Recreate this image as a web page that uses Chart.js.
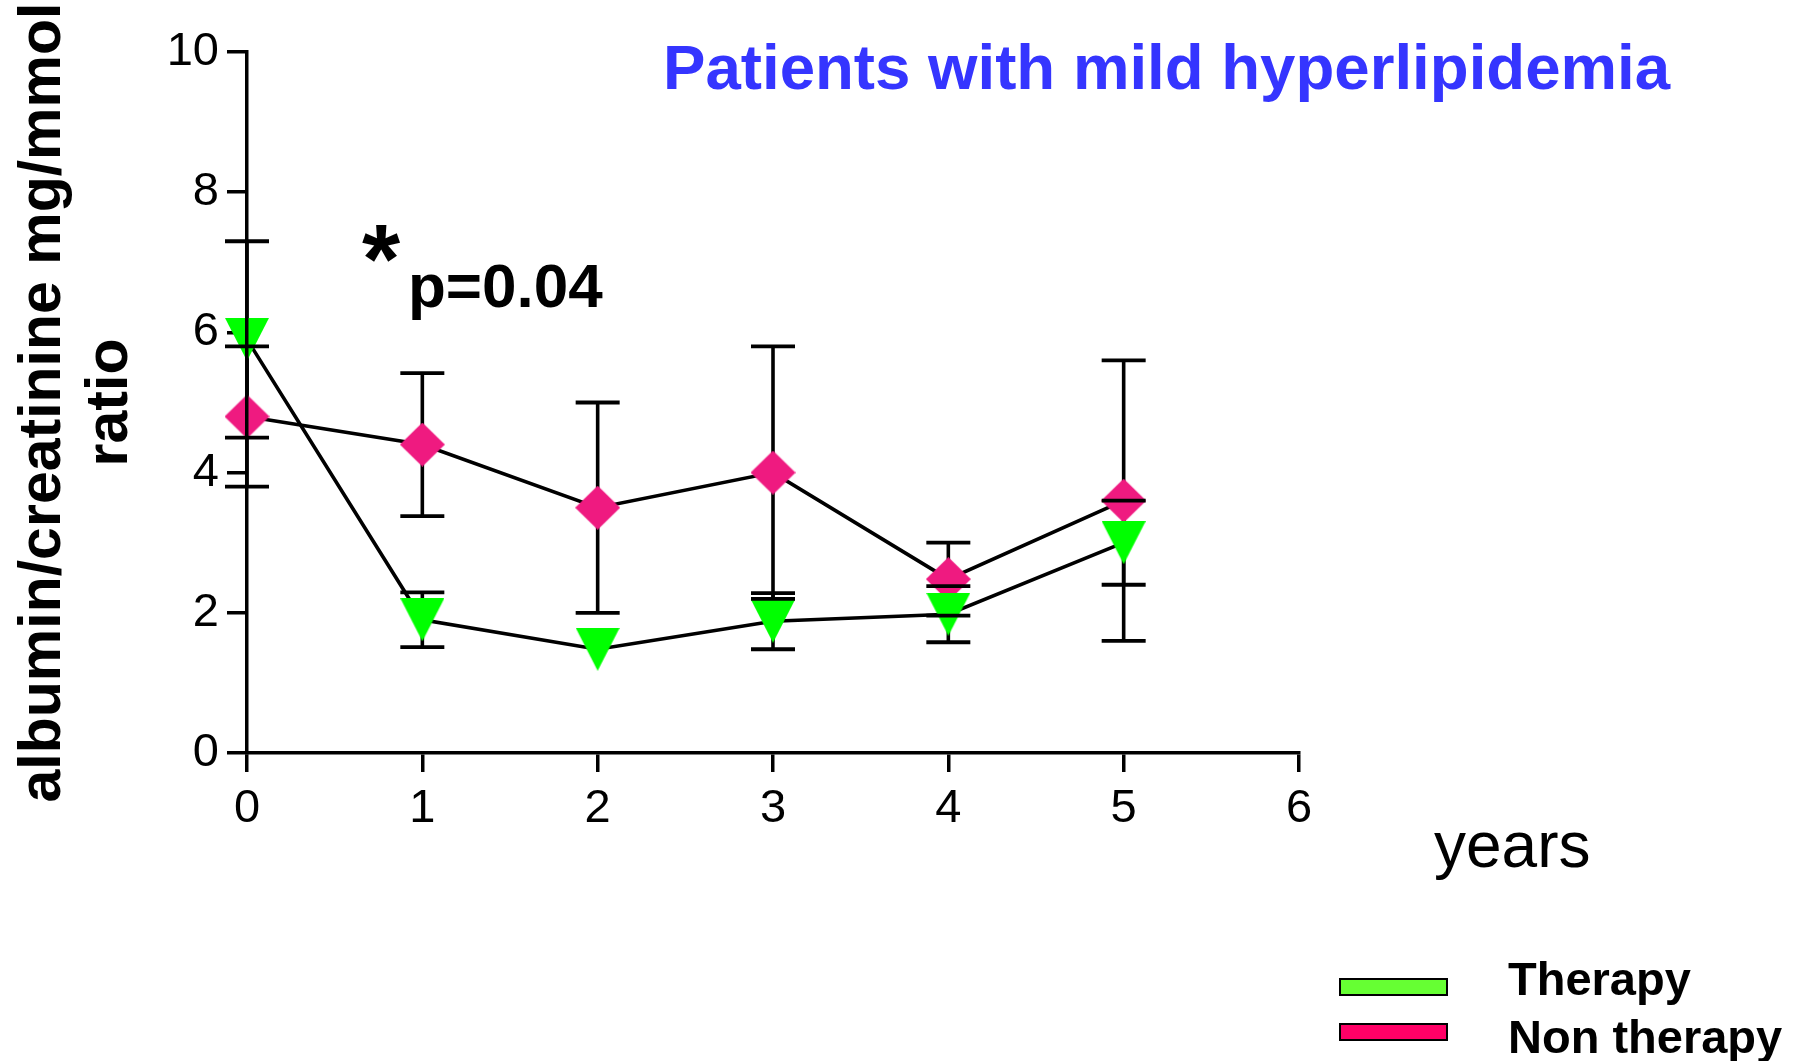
<!DOCTYPE html>
<html>
<head>
<meta charset="utf-8">
<title>Patients with mild hyperlipidemia</title>
<script src="https://cdn.jsdelivr.net/npm/chart.js@4.4.1/dist/chart.umd.min.js"></script>
<style>
  html, body { margin: 0; padding: 0; background: #ffffff; }
  canvas { display: block; }
</style>
</head>
<body>
<canvas id="myChart" width="1802" height="1061"></canvas>
<script>
// Years of follow-up
var years = [0, 1, 2, 3, 4, 5];

// Therapy group: mean and error bar size
var therapyMean = [5.9, 1.9, 1.48, 1.88, 1.98, 3.0];
var therapyErr = [1.4, 0.39, 0, 0.4, 0.4, 0.6];

// Non therapy group: mean and error bar size
var nonTherapyMean = [4.8, 4.4, 3.5, 4.0, 2.48, 3.6];
var nonTherapyErr = [1.0, 1.02, 1.5, 1.8, 0.52, 2.0];

// Axis ticks
var xTicks = [0, 1, 2, 3, 4, 5, 6];
var yTicks = [0, 2, 4, 6, 8, 10];

var fontFamily = "'Liberation Sans', Arial, Helvetica, sans-serif";
Chart.defaults.font.family = fontFamily;
Chart.defaults.color = '#000';

function toPoints(means) {
  return years.map(function (x, i) { return { x: x, y: means[i] }; });
}

// Marker shapes, drawn on small canvases and used as pointStyle
function triangleDown(w, h, color) {
  var c = document.createElement('canvas');
  c.width = w; c.height = h;
  var g = c.getContext('2d');
  g.fillStyle = color;
  g.beginPath();
  g.moveTo(0, 0); g.lineTo(w, 0); g.lineTo(w / 2, h);
  g.closePath();
  g.fill();
  return c;
}

function diamond(w, h, color) {
  var c = document.createElement('canvas');
  c.width = w; c.height = h;
  var g = c.getContext('2d');
  g.fillStyle = color;
  g.beginPath();
  g.moveTo(w / 2, 0); g.lineTo(w, h / 2); g.lineTo(w / 2, h); g.lineTo(0, h / 2);
  g.closePath();
  g.fill();
  return c;
}

// Error bars: whiskers go under the markers, caps on top
function eachBar(chart, fn) {
  var xs = chart.scales.x, ys = chart.scales.y;
  chart.data.datasets.forEach(function (ds) {
    ds.data.forEach(function (pt, i) {
      var e = ds.errors[i];
      if (!e) return;
      fn(xs.getPixelForValue(pt.x), ys.getPixelForValue(pt.y + e), ys.getPixelForValue(pt.y - e));
    });
  });
}

var errorBars = {
  id: 'errorBars',
  beforeDatasetsDraw: function (chart) {
    var ctx = chart.ctx;
    ctx.save();
    ctx.strokeStyle = '#000';
    ctx.lineWidth = 3.6;
    eachBar(chart, function (x, hi, lo) {
      ctx.beginPath();
      ctx.moveTo(x, hi); ctx.lineTo(x, lo);
      ctx.stroke();
    });
    ctx.restore();
  },
  afterDatasetsDraw: function (chart) {
    var ctx = chart.ctx;
    ctx.save();
    ctx.strokeStyle = '#000';
    ctx.lineWidth = 3.8;
    eachBar(chart, function (x, hi, lo) {
      ctx.beginPath();
      ctx.moveTo(x - 22, hi); ctx.lineTo(x + 22, hi);
      ctx.moveTo(x - 22, lo); ctx.lineTo(x + 22, lo);
      ctx.stroke();
    });
    ctx.restore();
  }
};

// Free text: title, significance note, x axis name, legend
var texts = {
  id: 'texts',
  afterDraw: function (chart) {
    var ctx = chart.ctx;
    ctx.save();
    ctx.textAlign = 'left';
    ctx.textBaseline = 'alphabetic';

    ctx.fillStyle = '#3535ff';
    ctx.font = 'bold 63.6px ' + fontFamily;
    ctx.fillText('Patients with mild hyperlipidemia', 663, 89);

    ctx.fillStyle = '#000';
    ctx.font = 'bold 98px ' + fontFamily;
    ctx.fillText('*', 362, 293);
    ctx.font = 'bold 62px ' + fontFamily;
    ctx.fillText('p=0.04', 408, 307);

    ctx.font = '64px ' + fontFamily;
    ctx.fillText('years', 1434, 867);

    ctx.font = 'bold 47px ' + fontFamily;
    chart.data.datasets.forEach(function (ds, i) {
      var top = 979 + i * 45;
      ctx.fillStyle = ds.legendColor;
      ctx.fillRect(1340, top, 107, 16);
      ctx.lineWidth = 2;
      ctx.strokeStyle = '#000';
      ctx.strokeRect(1340, top, 107, 16);
      ctx.fillStyle = '#000';
      ctx.fillText(ds.label, 1508, 995 + i * 58);
    });
    ctx.restore();
  }
};

var ctx = document.getElementById('myChart').getContext('2d');
var chart = new Chart(ctx, {
  type: 'line',
  data: {
    datasets: [{
      label: 'Therapy',
      data: toPoints(therapyMean),
      errors: therapyErr,
      legendColor: '#66ff33',
      borderColor: '#000',
      borderWidth: 3.6,
      pointStyle: triangleDown(44, 43, '#00ff00'),
      clip: false
    }, {
      label: 'Non therapy',
      data: toPoints(nonTherapyMean),
      errors: nonTherapyErr,
      legendColor: '#ff0066',
      borderColor: '#000',
      borderWidth: 3.6,
      pointStyle: diamond(45, 44, '#ef1a80'),
      clip: false
    }]
  },
  options: {
    responsive: false,
    animation: false,
    devicePixelRatio: 1,
    layout: { padding: { left: 0, top: 52, right: 503, bottom: 208 } },
    plugins: {
      legend: { display: false },
      tooltip: { enabled: false }
    },
    scales: {
      x: {
        type: 'linear',
        min: xTicks[0],
        max: xTicks[xTicks.length - 1],
        afterBuildTicks: function (scale) {
          scale.ticks = xTicks.map(function (v) { return { value: v }; });
        },
        afterFit: function (scale) { scale.height = 100; },
        border: { color: '#000', width: 3.5, z: 1 },
        grid: { drawOnChartArea: false, color: '#000', lineWidth: 3.5, tickLength: 19 },
        ticks: { font: { size: 47 }, padding: 9, maxRotation: 0 }
      },
      y: {
        min: yTicks[0],
        max: yTicks[yTicks.length - 1],
        afterBuildTicks: function (scale) {
          scale.ticks = yTicks.map(function (v) { return { value: v }; });
        },
        afterFit: function (scale) { scale.width = 247; },
        border: { color: '#000', width: 3.5, z: 1 },
        grid: { drawOnChartArea: false, color: '#000', lineWidth: 3.5, tickLength: 20 },
        ticks: { font: { size: 47 }, padding: 8 },
        title: {
          display: true,
          text: ['albumin/creatinine mg/mmol', 'ratio'],
          font: { size: 59, weight: 'bold', lineHeight: 67 / 59 },
          padding: { top: 10, bottom: 0 }
        }
      }
    }
  },
  plugins: [errorBars, texts]
});
</script>
</body>
</html>
